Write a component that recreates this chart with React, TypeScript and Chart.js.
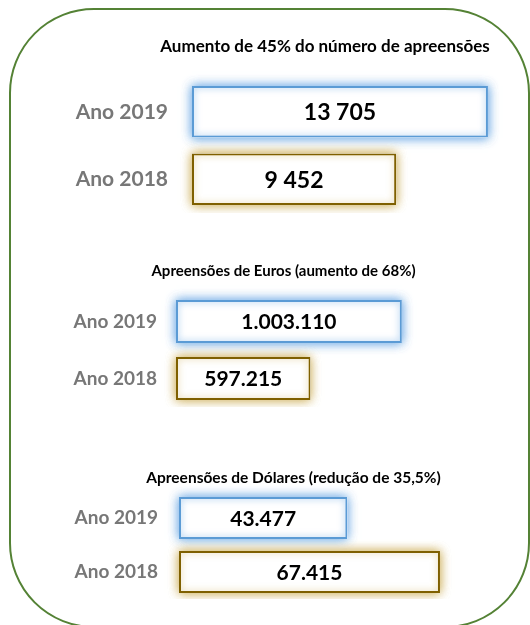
import React, { useEffect, useRef } from 'react';
import { Chart, registerables } from 'chart.js';

Chart.register(...registerables);

// ---- data ----
const YEARS = ['Ano 2019', 'Ano 2018'];
const SEIZURES = [13705, 9452];
const EUROS = [1003110, 597215];
const DOLLARS = [43477, 67415];
const TITLES = [
  'Aumento de 45% do número de apreensões',
  'Apreensões de Euros (aumento de 68%)',
  'Apreensões de Dólares (redução de 35,5%)',
];
const AXIS_MAX = [18430, 1470000, 89900];
const THOUSANDS_SEP = [' ', '.', '.'];

// ---- styles ----
const FONT = 'Lato, "Noto Sans", sans-serif';
const BORDER_COLORS = ['#5b9bd5', '#7f6000'];
const GLOW_COLORS = ['rgba(120,175,230,0.85)', 'rgba(205,175,90,0.75)'];
const LABEL_COLOR = '#777777';

const fmt = (v: number, sep: string) => String(v).replace(/\B(?=(\d{3})+(?!\d))/g, sep);

const glowPlugin = {
  id: 'barGlow',
  beforeDatasetsDraw(chart: any) {
    const ctx = chart.ctx;
    const meta = chart.getDatasetMeta(0);
    meta.data.forEach((el: any, i: number) => {
      const { x, y, base, height } = el.getProps(['x', 'y', 'base', 'height'], true);
      const left = Math.min(x, base);
      const w = Math.abs(x - base);
      ctx.save();
      ctx.shadowColor = GLOW_COLORS[i];
      ctx.shadowBlur = 10;
      ctx.fillStyle = '#ffffff';
      ctx.fillRect(left, y - height / 2, w, height);
      ctx.fillRect(left, y - height / 2, w, height);
      ctx.restore();
    });
  },
  afterDatasetsDraw(chart: any) {
    const ctx = chart.ctx;
    const meta = chart.getDatasetMeta(0);
    const o = chart.options.plugins.barGlow;
    const bw = 2;
    meta.data.forEach((el: any, i: number) => {
      const { x, y, base, height } = el.getProps(['x', 'y', 'base', 'height'], true);
      const left = Math.min(x, base);
      const w = Math.abs(x - base);
      const top = y - height / 2;
      // inner glow
      ctx.save();
      ctx.beginPath();
      ctx.rect(left + bw, top + bw, w - 2 * bw, height - 2 * bw);
      ctx.clip();
      ctx.shadowColor = GLOW_COLORS[i];
      ctx.shadowBlur = 7;
      ctx.strokeStyle = GLOW_COLORS[i];
      ctx.lineWidth = 3;
      ctx.strokeRect(left + 0.5, top + 0.5, w - 1, height - 1);
      ctx.restore();
      // value label
      ctx.save();
      ctx.fillStyle = '#000000';
      ctx.font = `bold ${o.valueSize}px ${FONT}`;
      ctx.textAlign = 'center';
      ctx.textBaseline = 'middle';
      const v = chart.data.datasets[0].data[i];
      ctx.fillText(fmt(v, o.sep), left + w / 2, y + 1);
      ctx.restore();
    });
  },
};

type PanelProps = {
  title: string;
  values: number[];
  max: number;
  sep: string;
  left: number;
  top: number;
  width: number;
  height: number;
  axisWidth: number;
  tickPad: number;
  titleSize: number;
  titlePadTop: number;
  titlePadBottom: number;
  barPct: number;
  labelSize: number;
  valueSize: number;
};

function Panel(p: PanelProps) {
  const ref = useRef<HTMLCanvasElement>(null);
  useEffect(() => {
    if (!ref.current) return;
    const chart = new Chart(ref.current, {
      type: 'bar',
      data: {
        labels: YEARS,
        datasets: [
          {
            data: p.values,
            backgroundColor: '#ffffff',
            borderColor: BORDER_COLORS,
            borderWidth: 2,
            borderSkipped: false,
            barPercentage: p.barPct,
            categoryPercentage: 1,
          },
        ],
      },
      options: {
        indexAxis: 'y',
        animation: false,
        responsive: false,
        maintainAspectRatio: false,
        layout: { padding: 0 },
        scales: {
          x: { display: false, min: 0, max: p.max },
          y: {
            grid: { display: false, drawTicks: false },
            border: { display: false },
            ticks: {
              padding: p.tickPad,
              color: LABEL_COLOR,
              font: { family: FONT, size: p.labelSize, weight: 'bold' },
            },
            afterFit: (axis: any) => {
              axis.width = p.axisWidth;
              axis.paddingTop = 0;
              axis.paddingBottom = 0;
            },
          },
        },
        plugins: {
          legend: { display: false },
          tooltip: { enabled: false },
          title: {
            display: true,
            text: p.title,
            color: '#000000',
            align: 'center',
            font: { family: FONT, size: p.titleSize, weight: 'bold', lineHeight: 1.2 },
            padding: { top: p.titlePadTop, bottom: p.titlePadBottom },
          },
          // @ts-ignore
          barGlow: { sep: p.sep, valueSize: p.valueSize },
        },
      },
      plugins: [glowPlugin],
    } as any);
    return () => chart.destroy();
  }, []);
  return (
    <canvas
      ref={ref}
      width={p.width}
      height={p.height}
      style={{ position: 'absolute', left: p.left, top: p.top, width: p.width, height: p.height }}
    />
  );
}

export default function App() {
  return (
    <div
      style={{
        position: 'absolute',
        left: 0,
        top: 0,
        width: 530,
        height: 625,
        overflow: 'hidden',
        background: '#ffffff',
      }}
    >
      <div
        style={{
          position: 'absolute',
          left: 9,
          top: 8,
          width: 521,
          height: 620,
          boxSizing: 'border-box',
          border: '2px solid #548235',
          borderRadius: 85,
        }}
      />
      <Panel
        title={TITLES[0]}
        values={SEIZURES}
        max={AXIS_MAX[0]}
        sep={THOUSANDS_SEP[0]}
        left={60}
        top={30}
        width={530}
        height={183}
        axisWidth={132}
        tickPad={24}
        titleSize={17}
        titlePadTop={6.3}
        titlePadBottom={21.3}
        barPct={0.763}
        labelSize={21}
        valueSize={23}
      />
      <Panel
        title={TITLES[1]}
        values={EUROS}
        max={AXIS_MAX[1]}
        sep={THOUSANDS_SEP[1]}
        left={60}
        top={255}
        width={447}
        height={152}
        axisWidth={116}
        tickPad={19}
        titleSize={15}
        titlePadTop={7}
        titlePadBottom={13}
        barPct={0.754}
        labelSize={19}
        valueSize={21}
      />
      <Panel
        title={TITLES[2]}
        values={DOLLARS}
        max={AXIS_MAX[2]}
        sep={THOUSANDS_SEP[2]}
        left={60}
        top={460}
        width={467}
        height={139}
        axisWidth={119}
        tickPad={21}
        titleSize={15.5}
        titlePadTop={8.7}
        titlePadBottom={3.7}
        barPct={0.778}
        labelSize={19}
        valueSize={21}
      />
    </div>
  );
}
